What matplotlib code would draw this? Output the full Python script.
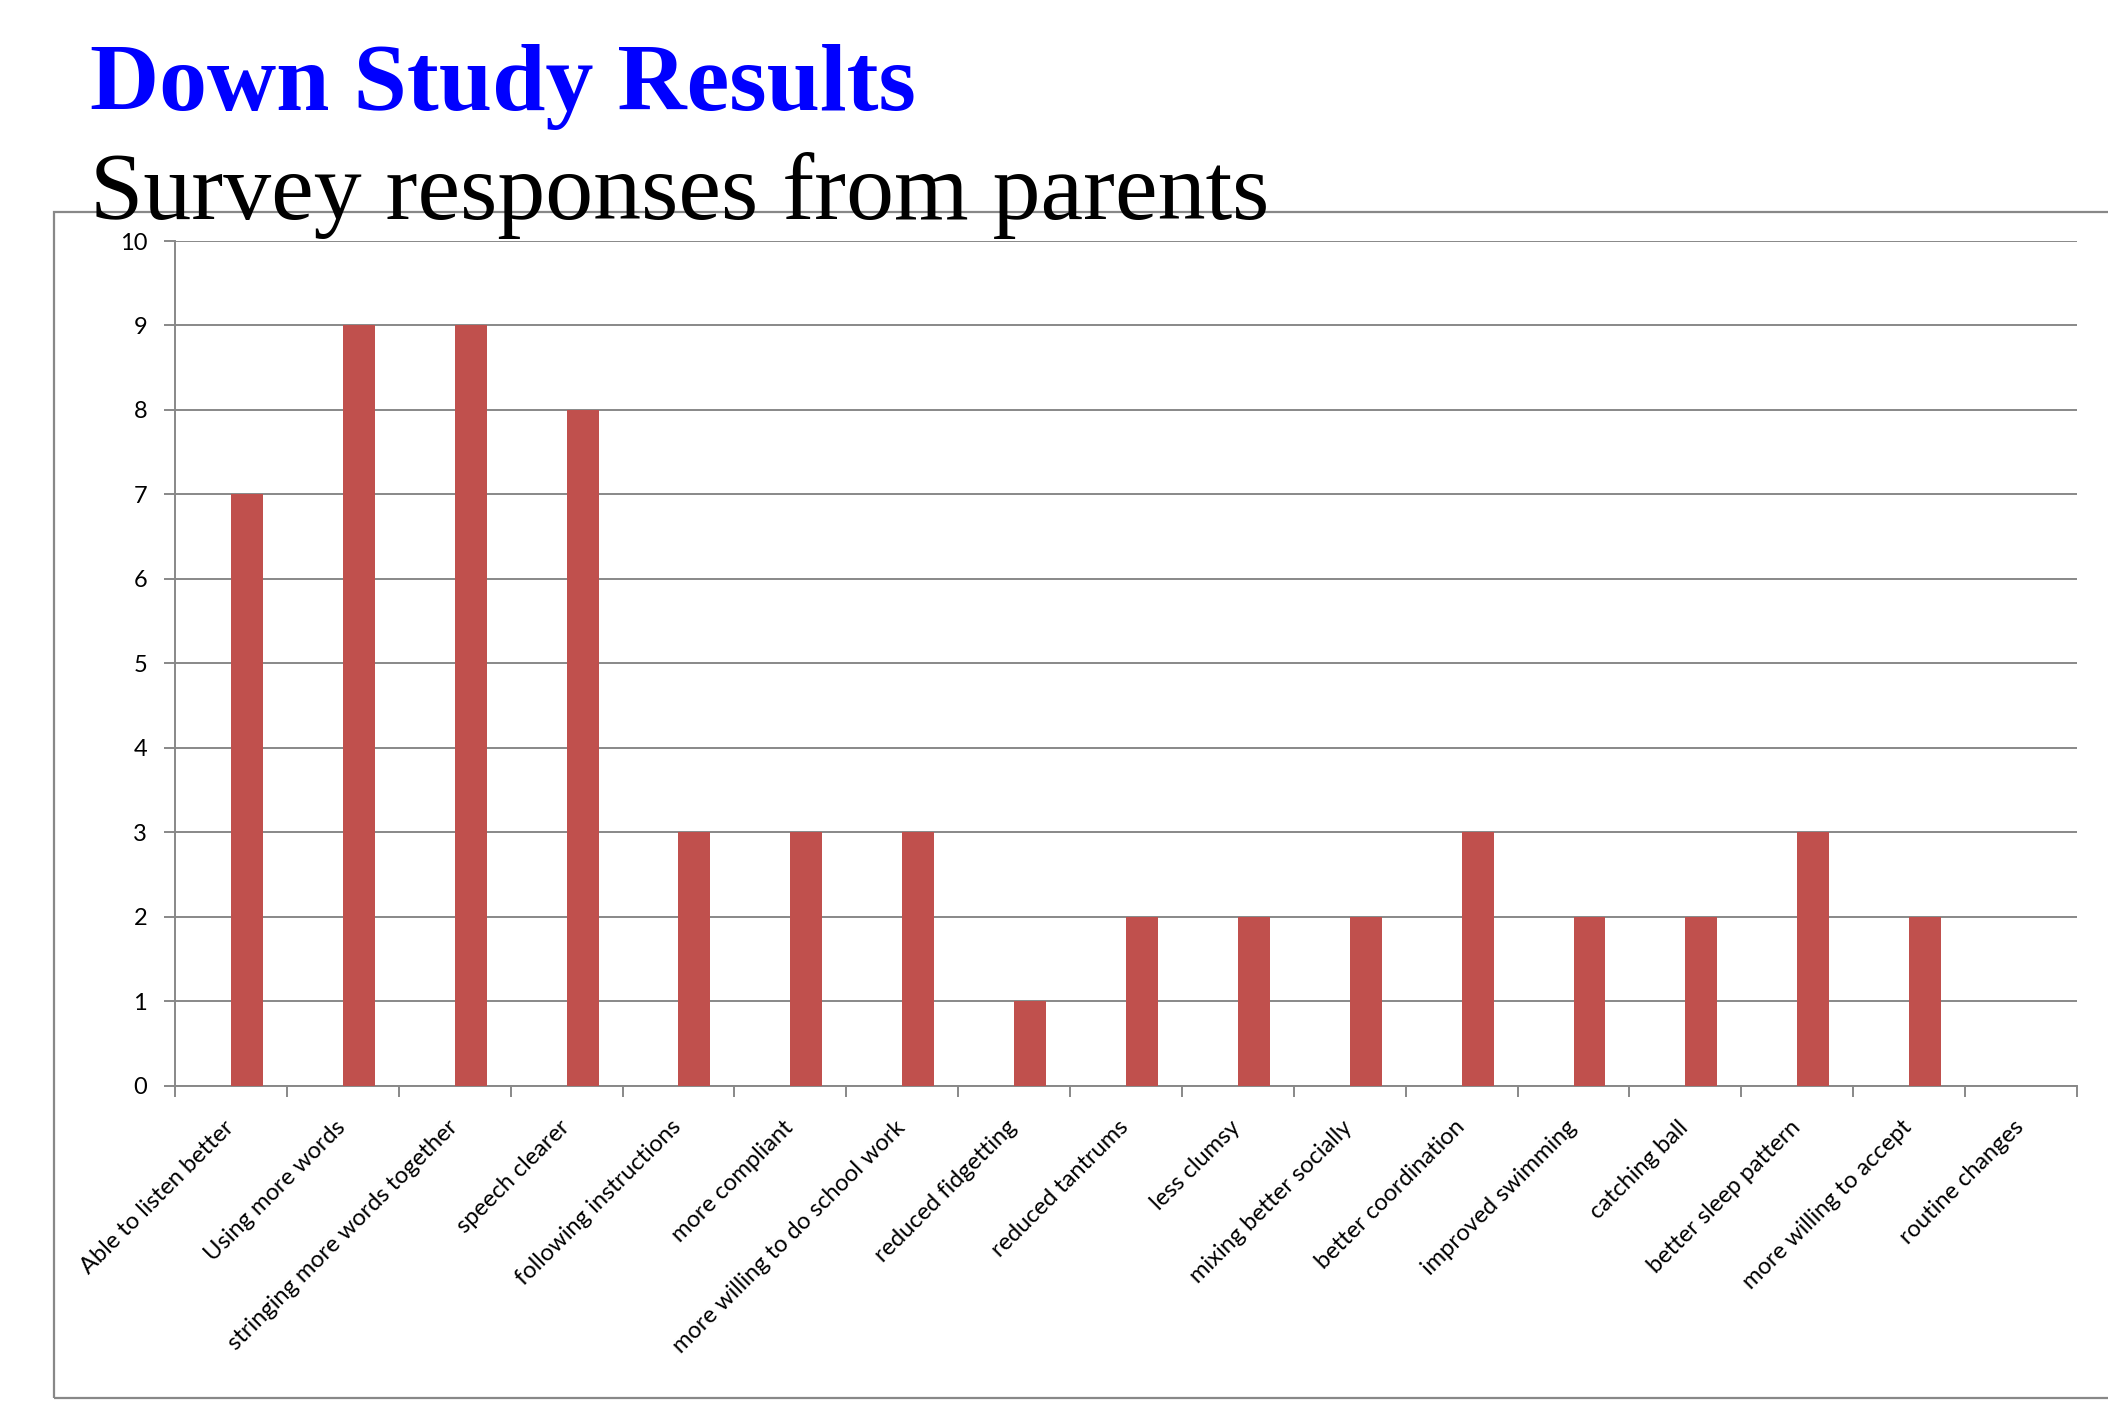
import matplotlib.pyplot as plt
import matplotlib.transforms as mtransforms
from matplotlib.patches import Rectangle

categories = [
    "Able to listen better", "Using more words", "stringing more words together",
    "speech clearer", "following instructions", "more compliant",
    "more willing to do school work", "reduced fidgetting", "reduced tantrums",
    "less clumsy", "mixing better socially", "better coordination",
    "improved swimming", "catching ball", "better sleep pattern",
    "more willing to accept", "routine changes",
]
responses = [7, 9, 9, 8, 3, 3, 3, 1, 2, 2, 2, 3, 2, 2, 3, 2, 0]
y_ticks = list(range(0, 11))

BAR_RED = "#C0504D"
GRID = "#888888"
LABEL_FONT = ["Lato", "DejaVu Sans"]

fig = plt.figure(figsize=(21.08, 14.16), dpi=100)

# outer chart frame (runs off the right edge like the slide)
frame = Rectangle((0.0256, 0.0127), 1.2, 0.8376, transform=fig.transFigure,
                  fill=False, edgecolor=GRID, linewidth=1.6, zorder=0)
fig.patches.append(frame)

ax = fig.add_axes([0.0830, 0.2331, 0.9023, 0.5967])

# excel style: two series per category, first one empty, gap width 150%
w = 1 / 3.5
xs = [i + 0.5 for i in range(len(categories))]
ax.bar(xs, responses, width=w, align="edge", color=BAR_RED, zorder=3)

ax.set_xlim(0, len(categories))
ax.set_ylim(0, 10)
ax.set_yticks(y_ticks)
ax.set_yticklabels([str(t) for t in y_ticks], fontsize=17, family=LABEL_FONT)
ax.yaxis.grid(True, color=GRID, linewidth=1.4, zorder=0)
ax.set_axisbelow(True)

ax.set_xticks(range(len(categories) + 1))
ax.set_xticklabels([])
ax.set_xticks(xs, minor=True)
ax.set_xticklabels(categories, minor=True, rotation=45, ha="right", va="top",
                   rotation_mode="anchor", fontsize=17, family=LABEL_FONT)
ax.tick_params(axis="x", which="minor", length=0, pad=22)
ax.tick_params(axis="x", which="major", length=8, width=1.4, color=GRID,
               direction="out")
ax.tick_params(axis="y", length=8, width=1.4, color=GRID, pad=12)

shift = mtransforms.ScaledTranslation(-8 / 100, 0, fig.dpi_scale_trans)
for lab in ax.get_xticklabels(minor=True):
    lab.set_transform(lab.get_transform() + shift)

for s in ["top", "right"]:
    ax.spines[s].set_visible(False)
for s in ["left", "bottom"]:
    ax.spines[s].set_color(GRID)
    ax.spines[s].set_linewidth(1.4)

fig.text(0.0427, 0.9223, "Down Study Results", color="#0000FF",
         fontsize=69, fontweight="bold", family="Liberation Serif",
         va="baseline", ha="left")
fig.text(0.0427, 0.8453, "Survey responses from parents", color="black",
         fontsize=69, family="Liberation Serif", va="baseline", ha="left",
         zorder=5)

plt.savefig("out.png", dpi=100)
